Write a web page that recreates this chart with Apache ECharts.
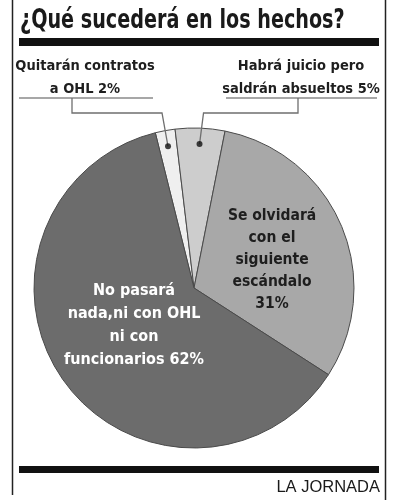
<!DOCTYPE html>
<html>
<head>
<meta charset="utf-8">
<script src="https://cdn.jsdelivr.net/npm/echarts@6/dist/echarts.min.js"></script>
<style>
  html, body { margin: 0; padding: 0; background: #fff; }
  #chart { width: 398px; height: 500px; }
</style>
</head>
<body>
<div id="chart"></div>
<script>
var titleText = '¿Qué sucederá en los hechos?';
var sourceText = 'LA JORNADA';
var answers = [
    'Quitarán contratos\na OHL 2%',
    'Habrá juicio pero\nsaldrán absueltos 5%',
    'Se olvidará\ncon el\nsiguiente\nescándalo\n31%',
    'No pasará\nnada,ni con OHL\nni con\nfuncionarios 62%'
];
var shares = [2, 5, 31, 62];
var shades = ['#efefef', '#cdcdcd', '#a8a8a8', '#6c6c6c'];
var textColors = ['#1e1e1e', '#1e1e1e', '#1e1e1e', '#ffffff'];

var font = "'Liberation Sans Narrow', 'DejaVu Sans Condensed', 'Liberation Sans', sans-serif";
var center = [194, 288];
var radius = 160;
var dotRatio = 0.9;
var startAngle = 104;
var underlineY = 98;

// label spots and leader elbows for the two thin slices
var leaders = {
    0: { x: 85, y: 78, bend: -6, elbowY: 113, drop: 72 },
    1: { x: 301, y: 78, bend: 4, elbowY: 113, drop: 298 }
};
// small shifts for the labels drawn inside the slices
var nudges = {
    2: [9, 1],
    3: [1, -6]
};
var sizes = [14.5, 14.5, 15.5, 16];
var leading = [23, 23, 22, 23];

var total = shares.reduce(function(a, b) { return a + b; }, 0);
var before = [];
(function() {
    var acc = 0;
    for (var i = 0; i < shares.length; i++) {
        before.push(acc);
        acc += shares[i];
    }
})();

var myChart = echarts.init(document.getElementById('chart'));

// the visible slices
var sliceData = shares.map(function(v, i) {
    return { name: answers[i], value: v, itemStyle: { color: shades[i] } };
});

// a transparent copy, a bit smaller, that carries the texts so the leader
// lines start at the dots and sit above the slices
var textData = shares.map(function(v, i) {
    var small = !!leaders[i];
    return {
        name: answers[i],
        value: v,
        label: {
            show: true,
            position: small ? 'outside' : 'inside',
            formatter: '{b}',
            color: textColors[i],
            fontFamily: font,
            fontWeight: 'bold',
            fontSize: sizes[i],
            lineHeight: leading[i],
            align: 'center'
        },
        labelLine: { show: small }
    };
});

var dots = [];
for (var k = 0; k < shares.length; k++) {
    if (leaders[k]) {
        dots.push([dotRatio * 100, before[k] + shares[k] / 2]);
    }
}

option = {
    animation: false,
    polar: { center: center, radius: radius },
    angleAxis: {
        type: 'value', min: 0, max: total, startAngle: startAngle, clockwise: true,
        show: false, splitLine: { show: false }, axisLine: { show: false }
    },
    radiusAxis: {
        type: 'value', min: 0, max: 100,
        show: false, splitLine: { show: false }, axisLine: { show: false }
    },
    graphic: [
        { type: 'line', shape: { x1: 12.5, y1: 0, x2: 12.5, y2: 495 }, style: { stroke: '#222', lineWidth: 1.5 } },
        { type: 'line', shape: { x1: 385.5, y1: 0, x2: 385.5, y2: 500 }, style: { stroke: '#222', lineWidth: 1.5 } },
        { type: 'rect', shape: { x: 19, y: 38, width: 360, height: 8 }, style: { fill: '#111' } },
        { type: 'rect', shape: { x: 19, y: 466, width: 360, height: 7 }, style: { fill: '#111' } },
        { type: 'line', shape: { x1: 19, y1: underlineY, x2: 153, y2: underlineY }, style: { stroke: '#8a8a8a', lineWidth: 1.3 } },
        { type: 'line', shape: { x1: 226, y1: underlineY, x2: 377, y2: underlineY }, style: { stroke: '#8a8a8a', lineWidth: 1.3 } },
        {
            // title, squeezed to the narrow headline face of the original
            type: 'text',
            x: 20,
            y: 21,
            scaleX: 0.82,
            style: {
                x: 0, y: 0, text: titleText, verticalAlign: 'middle',
                fontFamily: font, fontWeight: 'bold', fontSize: 26, fill: '#1a1a1a'
            }
        },
        {
            type: 'text',
            style: {
                x: 380, y: 496, text: sourceText, align: 'right', verticalAlign: 'bottom',
                fontFamily: 'Liberation Sans', fontSize: 16.5, fill: '#1a1a1a'
            }
        }
    ],
    series: [{
        type: 'pie',
        center: center,
        radius: radius,
        startAngle: startAngle,
        clockwise: true,
        silent: true,
        label: { show: false },
        labelLine: { show: false },
        data: sliceData,
        itemStyle: { borderColor: '#4a4a4a', borderWidth: 1 },
        z: 2
    }, {
        type: 'pie',
        center: center,
        radius: radius * dotRatio,
        startAngle: startAngle,
        clockwise: true,
        avoidLabelOverlap: false,
        silent: true,
        data: textData,
        itemStyle: { color: 'rgba(0,0,0,0)', borderWidth: 0 },
        labelLine: {
            lineStyle: { color: '#6f6f6f', width: 1.3 }
        },
        labelLayout: function(p) {
            var lead = leaders[p.dataIndex];
            if (lead && p.labelLinePoints && p.labelLinePoints.length) {
                var dot = p.labelLinePoints[0];
                return {
                    x: lead.x,
                    y: lead.y,
                    align: 'center',
                    verticalAlign: 'middle',
                    labelLinePoints: [
                        dot,
                        [dot[0] + lead.bend, lead.elbowY],
                        [lead.drop, lead.elbowY],
                        [lead.drop, underlineY]
                    ]
                };
            }
            var n = nudges[p.dataIndex];
            return n ? { dx: n[0], dy: n[1] } : {};
        },
        z: 4
    }, {
        type: 'scatter',
        coordinateSystem: 'polar',
        silent: true,
        symbolSize: 6,
        itemStyle: { color: '#111' },
        data: dots,
        z: 5
    }]
};

myChart.setOption(option);
</script>
</body>
</html>
